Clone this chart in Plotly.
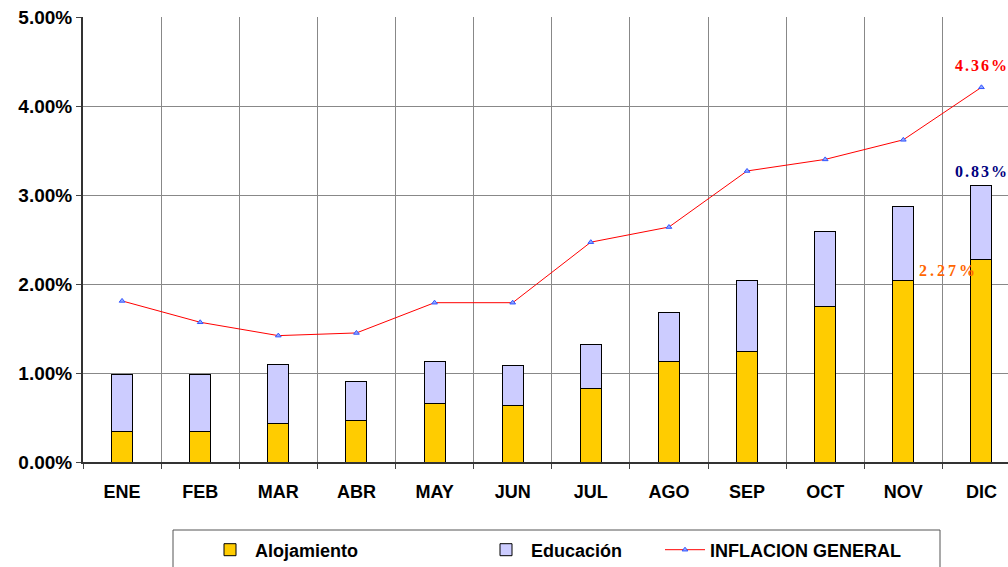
import plotly.graph_objects as go

meses = ["ENE", "FEB", "MAR", "ABR", "MAY", "JUN", "JUL", "AGO", "SEP", "OCT", "NOV", "DIC"]
alojamiento = [0.34, 0.34, 0.43, 0.47, 0.66, 0.64, 0.83, 1.13, 1.24, 1.75, 2.04, 2.28]
educacion = [0.64, 0.64, 0.66, 0.43, 0.47, 0.44, 0.49, 0.55, 0.80, 0.84, 0.83, 0.83]
inflacion = [1.81, 1.57, 1.42, 1.45, 1.79, 1.79, 2.47, 2.64, 3.27, 3.40, 3.62, 4.21]
etiqueta_inflacion = "4.36%"
etiqueta_educacion = "0.83%"
etiqueta_alojamiento = "2.27%"

W, H = 1008, 567
# plot area in page pixels (body margin removed below)
PL, PR, PT, PB = 83, 1008, 17, 462
L, T = PL, PT
R = W - PR
B = H - PB
pw = PR - PL
ph = PB - PT

def px_x(p):
    return (p - PL) / pw

def px_y(p):
    return (PB - p) / ph

fig = go.Figure()
fig.add_trace(go.Bar(
    x=meses, y=alojamiento, name="Alojamiento",
    marker=dict(color="#FFCC00", line=dict(color="#000000", width=1)),
    width=0.27, legend="legend",
))
fig.add_trace(go.Bar(
    x=meses, y=educacion, name="Educación",
    marker=dict(color="#CCCCFF", line=dict(color="#000000", width=1)),
    width=0.27, legend="legend2",
))
fig.add_trace(go.Scatter(
    x=meses, y=inflacion, name="INFLACION GENERAL", mode="lines+markers",
    line=dict(color="#FF0000", width=1),
    marker=dict(symbol="triangle-up", size=5, color="#8FA8FF",
                line=dict(color="#3355FF", width=1)),
    legend="legend3",
))

def spaced(t, s):
    return '<span style="letter-spacing:%dpx">' % s + t + '</span>'

lab_font = dict(family="Liberation Serif", size=16, weight="bold")
fig.add_annotation(xref="paper", x=px_x(953), xanchor="left", y=inflacion[-1], yref="y",
                   text=spaced(etiqueta_inflacion, 2), showarrow=False, yshift=22,
                   font=dict(color="#FF0000", **lab_font))
fig.add_annotation(xref="paper", x=px_x(953), xanchor="left", y=alojamiento[-1] + educacion[-1], yref="y",
                   text=spaced(etiqueta_educacion, 2), showarrow=False, yshift=14,
                   font=dict(color="#000080", **lab_font))
fig.add_annotation(xref="paper", x=px_x(917), xanchor="left", y=alojamiento[-1], yref="y",
                   text=spaced(etiqueta_alojamiento, 3), showarrow=False, yshift=-11,
                   font=dict(color="#FF6600", **lab_font))

# legend frame
fig.add_shape(type="rect", xref="paper", yref="paper",
              x0=px_x(173), x1=px_x(940), y0=px_y(530), y1=px_y(600),
              line=dict(color="#555555", width=1), fillcolor="rgba(0,0,0,0)")

legend_font = dict(family="Liberation Sans", size=18, color="#000000", weight="bold")
common = dict(orientation="h", yanchor="middle", y=px_y(550), xanchor="left",
              font=legend_font, bgcolor="rgba(0,0,0,0)", borderwidth=0, itemwidth=40)
fig.update_layout(
    legend=dict(x=px_x(205), **common),
    legend2=dict(x=px_x(481), **common),
    legend3=dict(x=px_x(660), **common),
)

fig.update_layout(
    width=W, height=H,
    margin=dict(l=L, r=R, t=T, b=B, autoexpand=False),
    barmode="stack",
    plot_bgcolor="#FFFFFF", paper_bgcolor="#FFFFFF",
    showlegend=True,
    font=dict(family="Liberation Sans", color="#000000"),
    xaxis=dict(
        type="category", range=[-0.5, 11.34], tickson="boundaries",
        showgrid=True, gridcolor="#888888", gridwidth=1,
        ticks="outside", ticklen=5, tickcolor="#444444",
        showline=True, linecolor="#333333", linewidth=2,
        tickfont=dict(family="Liberation Sans", size=18, color="#000000", weight="bold"),
        ticklabelstandoff=12, zeroline=False, automargin=False,
        ticklabeloverflow="allow",
    ),
    yaxis=dict(
        range=[0, 5], dtick=1, tickformat=".2f", ticksuffix="%",
        showgrid=True, gridcolor="#888888", gridwidth=1,
        ticks="outside", ticklen=5, tickcolor="#444444",
        showline=True, linecolor="#333333", linewidth=2,
        tickfont=dict(family="Liberation Sans", size=19, color="#000000", weight="bold"),
        zeroline=False, automargin=False, ticklabeloverflow="allow",
    ),
)

fig.write_html("out.html",
               config={"displayModeBar": False},
               post_script="document.body.style.margin='0px';document.body.style.overflow='hidden';")
